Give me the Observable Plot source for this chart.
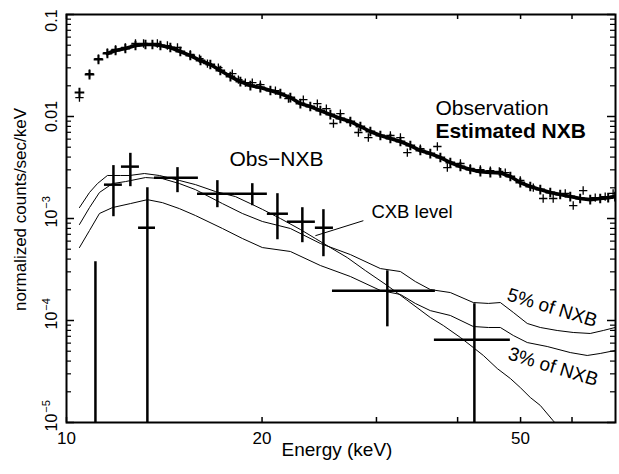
<!DOCTYPE html>
<html>
<head>
<meta charset="utf-8">
<script src="https://cdn.jsdelivr.net/npm/d3@7"></script>
<script src="https://cdn.jsdelivr.net/npm/@observablehq/plot@0.6"></script>
<style>
  html, body { margin: 0; padding: 0; background: #fff; }
</style>
</head>
<body>
<div id="chart"></div>
<script>
// ---- Estimated NXB spectrum (keV, counts/s/keV)
const nxbEnergy = [10.47,10.85,11.20,11.56,11.90,12.32,12.77,13.23,13.56,13.95,14.45,14.97,15.51,16.08,16.65,17.25,17.88,18.52,19.19,19.88,20.60,21.34,22.11,22.91,23.73,24.59,25.48,26.40,27.35,28.34,29.36,30.42,31.52,32.66,33.83,35.05,36.31,37.63,38.98,40.40,41.84,43.36,44.92,46.54,48.22,49.95,51.75,53.62,55.55,57.54,59.63,61.76,64.00,66.31,68.21,69.91];
const nxbRate = [0.01716,0.02577,0.03617,0.04142,0.04433,0.04638,0.04964,0.05076,0.05076,0.04964,0.04745,0.04334,0.03959,0.03537,0.03230,0.02821,0.02463,0.02199,0.02010,0.01921,0.01796,0.01678,0.01533,0.01338,0.01252,0.01143,0.01044,0.00956,0.00893,0.00798,0.00713,0.00651,0.00608,0.00569,0.00519,0.00464,0.00433,0.00396,0.00354,0.00323,0.00302,0.00288,0.00282,0.00280,0.00258,0.00225,0.00206,0.00192,0.00180,0.00172,0.00164,0.00157,0.00153,0.00157,0.00160,0.00164];

// ---- Observation spectrum
const obsEnergy = [10.47,10.85,11.20,11.56,11.90,12.32,12.77,13.14,13.80,14.30,14.82,15.51,16.02,16.48,17.13,18.00,18.39,18.85,19.32,19.88,20.97,21.96,23.15,24.33,25.12,25.76,26.40,27.35,28.14,29.15,31.52,32.66,33.47,35.05,37.23,38.57,40.40,41.84,43.36,44.92,46.37,47.36,49.95,52.31,54.17,56.13,58.58,60.26,62.42,65.15,67.49,69.41];
const obsRate = [0.01533,0.02636,0.03700,0.04237,0.04536,0.04745,0.05194,0.05194,0.05194,0.04964,0.04745,0.04052,0.03700,0.03305,0.03018,0.02636,0.02300,0.02151,0.02151,0.02055,0.01796,0.01499,0.01466,0.01338,0.01196,0.00854,0.01068,0.00873,0.00697,0.00622,0.00651,0.00622,0.00443,0.00485,0.00508,0.00316,0.00346,0.00309,0.00302,0.00295,0.00289,0.00282,0.00236,0.00201,0.00157,0.00157,0.00176,0.00134,0.00188,0.00160,0.00164,0.00176];

// ---- Obs - NXB (bin centre, bin edges, value, error range)
const diffEnergy = [11.08,11.81,12.54,13.32,14.82,17.07,19.32,21.12,23.07,24.86,31.18,42.45];
const diffBinLo  = [10.73,11.44,12.15,12.91,13.66,15.91,18.20,20.38,21.88,24.16,25.67,36.84];
const diffBinHi  = [11.44,12.19,12.95,13.71,15.96,18.20,20.38,21.96,24.16,25.76,36.97,48.22];
const diffRate   = [1e-6,2.146e-3,3.225e-3,8.12e-4,2.513e-3,1.751e-3,1.751e-3,1.114e-3,9.30e-4,8.12e-4,1.957e-4,6.46e-5];
const diffErrLo  = [1e-7,1.041e-3,2.051e-3,1e-7,1.791e-3,1.276e-3,1.335e-3,6.19e-4,5.79e-4,4.22e-4,8.67e-5,1e-7];
const diffErrHi  = [3.77e-4,3.30e-3,4.355e-3,2.006e-3,3.152e-3,2.350e-3,2.195e-3,1.751e-3,1.276e-3,1.220e-3,3.073e-4,1.459e-4];

// ---- Model curves
const cxbEnergy = [10.47,10.85,11.16,11.56,12.11,12.50,13.18,13.90,14.92,15.79,16.95,18.20,19.19,20.02,21.34,22.91,24.16,25.48,27.05,28.84,31.18,33.36,36.31,38.02,40.40,42.29,43.82,46.04,48.22,49.95,51.75,53.62,56.13,57.54];
const cxbRate = [1.28e-3,1.80e-3,2.20e-3,2.64e-3,2.64e-3,2.64e-3,2.76e-3,2.64e-3,2.36e-3,2.15e-3,1.84e-3,1.64e-3,1.40e-3,1.23e-3,1.00e-3,7.80e-4,6.37e-4,5.19e-4,4.14e-4,3.09e-4,2.20e-4,1.60e-4,1.07e-4,8.93e-5,6.81e-5,5.43e-5,4.54e-5,3.38e-5,2.70e-5,2.20e-5,1.76e-5,1.47e-5,1.04e-5,8.7e-6];

const nxb5Energy = [10.47,10.85,11.24,11.77,12.32,13.23,14.05,14.92,15.79,17.38,18.65,20.02,22.11,24.59,27.35,30.42,32.66,34.43,36.31,38.98,42.29,44.61,46.54,48.73,51.20,53.62,56.93,60.26,64.00,67.03,69.91];
const nxb5Rate = [8.73e-4,1.28e-3,1.80e-3,2.20e-3,2.30e-3,2.52e-3,2.46e-3,2.20e-3,1.92e-3,1.40e-3,1.12e-3,9.35e-4,7.98e-4,5.69e-4,4.43e-4,3.23e-4,3.02e-4,2.41e-4,2.01e-4,1.88e-4,1.50e-4,1.47e-4,1.50e-4,1.20e-4,9.35e-5,8.54e-5,7.98e-5,7.63e-5,7.46e-5,7.98e-5,8.54e-5];

const nxb3Energy = [10.47,10.85,11.24,11.77,12.54,13.32,14.05,14.92,15.79,17.38,18.65,20.02,22.11,24.59,27.35,30.42,32.66,34.43,36.31,38.98,42.29,44.61,46.54,48.73,51.20,54.95,59.63,63.32,66.31,69.91];
const nxb3Rate = [5.19e-4,7.63e-4,1.12e-3,1.28e-3,1.40e-3,1.53e-3,1.43e-3,1.25e-3,1.07e-3,7.98e-4,6.37e-4,5.19e-4,4.75e-4,3.46e-4,2.70e-4,1.97e-4,1.80e-4,1.47e-4,1.25e-4,1.12e-4,8.73e-5,8.54e-5,8.54e-5,7.13e-5,6.08e-5,5.56e-5,4.85e-5,4.54e-5,4.75e-5,5.08e-5];

// ---- Axis ticks / labels
const xTickLabels = [10, 20, 50];
const xMinorTicks = [30, 40, 60];
const yDecades = [1e-5, 1e-4, 1e-3, 1e-2, 1e-1];
const yTickBase = ["10", "10", "10", "0.01", "0.1"];
const yTickExp = ["\u22125", "\u22124", "\u22123", "", ""];

// ---- Annotations (data space)
const obsLabel = {t: "Observation", e: 36.97, v: 0.01196};
const nxbLabel = {t: "Estimated NXB", e: 36.97, v: 0.00719};
const diffLabel = {t: "Obs\u2212NXB", e: 17.82, v: 0.003776};
const cxbLabel = {t: "CXB level", e: 29.47, v: 0.001166};
const curveLabelText = ["5% of NXB", "3% of NXB"];
const curveLabelEnergy = [55.94, 56.13];
const curveLabelRate = [1.332e-4, 3.51e-5];
const pointerFrom = [28.64, 9.52e-4];
const pointerTo = [24.16, 6.78e-4];

// ---- tables
const nxb = nxbEnergy.map((e, i) => ({e, v: nxbRate[i]}));
const obs = obsEnergy.map((e, i) => ({e, v: obsRate[i]}));
const diff = diffEnergy.map((e, i) => ({e, lo: diffBinLo[i], hi: diffBinHi[i], v: diffRate[i], el: diffErrLo[i], eh: diffErrHi[i]}));
const cxb = cxbEnergy.map((e, i) => ({e, v: cxbRate[i]}));
const nxb5 = nxb5Energy.map((e, i) => ({e, v: nxb5Rate[i]}));
const nxb3 = nxb3Energy.map((e, i) => ({e, v: nxb3Rate[i]}));
const curveLabels = curveLabelText.map((t, i) => ({t, e: curveLabelEnergy[i], v: curveLabelRate[i]}));
const yMinor = [];
for (const d of yDecades.slice(0, 4)) for (let k = 2; k <= 9; k++) yMinor.push(d * k);
const yLab = yDecades.map((d, i) => ({d, base: yTickBase[i], exp: yTickExp[i]}));

const W = 619, H = 474, mL = 66, mR = 4, mT = 14, mB = 52;
const fw = W - mL - mR, fh = H - mT - mB;
const ann = (o, extra) => Plot.text([o], {x: "e", y: "v", text: "t", textAnchor: "start", lineAnchor: "middle", fill: "#000", ...extra});

const chart = Plot.plot({
  width: W, height: H,
  marginLeft: mL, marginRight: mR, marginTop: mT, marginBottom: mB,
  style: {fontFamily: "'Liberation Sans', Arial, Helvetica, sans-serif", background: "#fff", color: "#000", overflow: "visible"},
  x: {type: "log", domain: [10, 70], axis: null},
  y: {type: "log", domain: [1e-5, 0.1], axis: null},
  marks: [
    // inward ticks
    Plot.ruleX([...xTickLabels, ...xMinorTicks], {x: d => d, insetTop: fh - 5, strokeWidth: 1.5}),
    Plot.ruleX([...xTickLabels, ...xMinorTicks], {x: d => d, insetBottom: fh - 5, strokeWidth: 1.5}),
    Plot.ruleY(yDecades, {y: d => d, insetRight: fw - 8, strokeWidth: 1.5}),
    Plot.ruleY(yMinor, {y: d => d, insetRight: fw - 5, strokeWidth: 1.2}),
    Plot.ruleY(yDecades, {y: d => d, insetLeft: fw - 8, strokeWidth: 1.5}),
    Plot.ruleY(yMinor, {y: d => d, insetLeft: fw - 5, strokeWidth: 1.2}),

    // model curves
    Plot.line(cxb, {x: "e", y: "v", stroke: "#000", strokeWidth: 1, clip: true}),
    Plot.line(nxb5, {x: "e", y: "v", stroke: "#000", strokeWidth: 1, clip: true}),
    Plot.line(nxb3, {x: "e", y: "v", stroke: "#000", strokeWidth: 1, clip: true}),

    // Obs - NXB
    Plot.ruleY(diff, {y: "v", x1: "lo", x2: "hi", stroke: "#000", strokeWidth: 2.5, clip: true}),
    Plot.ruleX(diff, {x: "e", y1: "el", y2: "eh", stroke: "#000", strokeWidth: 2.5, clip: true}),

    // spectra
    Plot.line(nxb.slice(3), {x: "e", y: "v", stroke: "#000", strokeWidth: 3.6, clip: true}),
    Plot.dot(nxb, {x: "e", y: "v", symbol: "plus", r: 3.2, stroke: "#000", strokeWidth: 2, clip: true}),
    Plot.dot(obs, {x: "e", y: "v", symbol: "plus", r: 2.8, stroke: "#000", strokeWidth: 1.3, clip: true}),

    // pointer for CXB level
    Plot.link([0], {x1: () => pointerFrom[0], y1: () => pointerFrom[1], x2: () => pointerTo[0], y2: () => pointerTo[1], stroke: "#000", strokeWidth: 1}),

    // annotations
    ann(obsLabel, {fontSize: 21}),
    ann(nxbLabel, {fontSize: 21, fontWeight: "bold"}),
    ann(diffLabel, {fontSize: 21}),
    ann(cxbLabel, {fontSize: 18.5}),
    Plot.text(curveLabels, {x: "e", y: "v", text: "t", rotate: 17, fontSize: 19, textAnchor: "middle", lineAnchor: "middle", fill: "#000"}),

    // x tick labels and title
    Plot.text(xTickLabels, {x: d => d, text: d => String(d), frameAnchor: "bottom", dy: 16, fontSize: 17, textAnchor: "middle", lineAnchor: "middle", fill: "#000"}),
    Plot.text(["Energy (keV)"], {text: d => d, frameAnchor: "bottom", dx: -4, dy: 27, fontSize: 19, textAnchor: "middle", lineAnchor: "middle", fill: "#000"}),

    // y tick labels (rotated)
    Plot.text(yLab.filter(d => d.d !== 0.1), {y: "d", text: "base", frameAnchor: "left", dx: -15, rotate: -90, fontSize: 16, textAnchor: "middle", lineAnchor: "middle", fill: "#000"}),
    Plot.text(yLab.filter(d => d.d === 0.1), {y: "d", text: "base", frameAnchor: "left", dx: -15, dy: 6, rotate: -90, fontSize: 16, textAnchor: "middle", lineAnchor: "middle", fill: "#000"}),
    Plot.text(yLab, {y: "d", text: "exp", frameAnchor: "left", dx: -20, dy: -16, rotate: -90, fontSize: 11, textAnchor: "middle", lineAnchor: "middle", fill: "#000"}),
    Plot.text(["normalized counts/sec/keV"], {text: d => d, frameAnchor: "left", dx: -46, dy: -9, rotate: -90, fontSize: 17, textAnchor: "middle", lineAnchor: "middle", fill: "#000"}),

    Plot.frame({stroke: "#000", strokeWidth: 2})
  ]
});
document.getElementById("chart").append(chart);
</script>
</body>
</html>
